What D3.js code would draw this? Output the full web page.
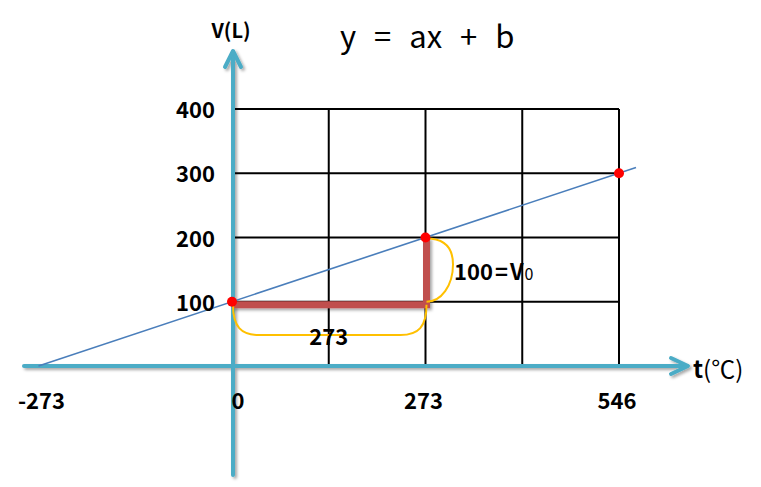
<!DOCTYPE html>
<html>
<head>
<meta charset="utf-8">
<script src="https://cdn.jsdelivr.net/npm/d3@7"></script>
<style>
  body { margin: 0; background: #fff; }
  text { font-family: "Noto Sans CJK KR", "Noto Sans", sans-serif; }
</style>
</head>
<body>
<div id="chart"></div>
<script>
// V = a t + b  (Charles' law sketch)

var width = 761,
	height = 487;

// tick values and labels
var x_ticks = [-273, 0, 273, 546];
var y_ticks = [100, 200, 300, 400];
// grid lines
var grid_x = [0, 136.5, 273, 409.5, 546];
var grid_y = [100, 200, 300, 400];
// the fitted line, from the x axis to past 546
var line_pts = [[-273, 0], [570, 309]];
// measured points
var points = [[0, 100], [273, 200], [546, 300]];
// the step showing slope (run 273, rise 100)
var step_pts = [[0, 100], [273, 100], [273, 200]];

var cyan = '#4BACC6',
	blue = '#4A7EBB',
	red_bar = '#C0504D',
	yellow = '#FFC000';

var x = d3.scaleLinear().domain([0, 546]).range([232, 619]);
var y = d3.scaleLinear().domain([0, 400]).range([366, 109]);

var svg = d3.select('#chart')
	.append('svg')
	.attr('width', width)
	.attr('height', height);

var defs = svg.append('defs');
defs.append('filter')
	.attr('id', 'shadow')
	.attr('x', '-10%').attr('y', '-10%')
	.attr('width', '130%').attr('height', '130%')
	.append('feDropShadow')
	.attr('dx', 2).attr('dy', 2)
	.attr('stdDeviation', 1.5)
	.attr('flood-color', '#000')
	.attr('flood-opacity', 0.35);

// grid
svg.append('g')
	.selectAll('line')
	.data(grid_x)
	.enter().append('line')
	.attr('x1', function(d) { return x(d); })
	.attr('x2', function(d) { return x(d); })
	.attr('y1', y(400))
	.attr('y2', y(0))
	.attr('stroke', '#000')
	.attr('stroke-width', 2);

svg.append('g')
	.selectAll('line')
	.data(grid_y)
	.enter().append('line')
	.attr('x1', x(0))
	.attr('x2', x(546))
	.attr('y1', function(d) { return y(d); })
	.attr('y2', function(d) { return y(d); })
	.attr('stroke', '#000')
	.attr('stroke-width', 2);

// axes (cyan, with arrow heads)
var axes = svg.append('g')
	.attr('filter', 'url(#shadow)')
	.attr('stroke', cyan)
	.attr('stroke-width', 4)
	.attr('fill', 'none')
	.attr('stroke-linecap', 'round')
	.attr('stroke-linejoin', 'round');

var x0 = x(0) + 1, y0 = y(0);
axes.append('line')
	.attr('x1', 24).attr('x2', 687)
	.attr('y1', y0).attr('y2', y0);
axes.append('polyline')
	.attr('points', [[671, y0 - 8], [688, y0], [671, y0 + 8]].join(' '));

axes.append('line')
	.attr('x1', x0).attr('x2', x0)
	.attr('y1', 475).attr('y2', 52);
axes.append('polyline')
	.attr('points', [[x0 - 8, 67], [x0, 51], [x0 + 8, 67]].join(' '));

// fitted line
svg.append('line')
	.attr('x1', x(line_pts[0][0]))
	.attr('y1', y(line_pts[0][1]))
	.attr('x2', x(line_pts[1][0]))
	.attr('y2', y(line_pts[1][1]))
	.attr('stroke', blue)
	.attr('stroke-width', 1.6);

// red step
svg.append('polyline')
	.attr('points', step_pts.map(function(d, i) {
		var dy = (i < 2) ? 3 : 0;
		return [x(d[0]) + (i > 0 ? 1 : 0), y(d[1]) + dy];
	}).join(' '))
	.attr('fill', 'none')
	.attr('stroke', red_bar)
	.attr('stroke-width', 7)
	.attr('filter', 'url(#shadow)');

// yellow brackets
var bx0 = x(0) + 1, bx1 = x(273) + 1, by = y(100) + 3, yb = 335;
var p1 = d3.path();
p1.moveTo(bx0, by);
p1.bezierCurveTo(bx0, by + 22, bx0 + 8, yb, bx0 + 26, yb);
p1.lineTo(bx1 - 26, yb);
p1.bezierCurveTo(bx1 - 8, yb, bx1, by + 22, bx1, by);
svg.append('path')
	.attr('d', p1.toString())
	.attr('fill', 'none')
	.attr('stroke', yellow)
	.attr('stroke-width', 2);

var ry0 = y(200) + 1, ry1 = y(100), rx = 453;
var p2 = d3.path();
p2.moveTo(bx1, ry0);
p2.bezierCurveTo(rx - 8, ry0, rx, ry0 + 10, rx, ry0 + 26);
p2.bezierCurveTo(rx, ry1 - 16, rx - 12, ry1, bx1, ry1);
svg.append('path')
	.attr('d', p2.toString())
	.attr('fill', 'none')
	.attr('stroke', yellow)
	.attr('stroke-width', 2);

// points
svg.append('g')
	.selectAll('circle')
	.data(points)
	.enter().append('circle')
	.attr('cx', function(d) { return x(d[0]); })
	.attr('cy', function(d) { return y(d[1]); })
	.attr('r', 5)
	.attr('fill', '#FF0000');

// tick labels
svg.append('g')
	.selectAll('text')
	.data(y_ticks)
	.enter().append('text')
	.attr('x', 215)
	.attr('y', function(d) { return y(d) + 9; })
	.attr('text-anchor', 'end')
	.attr('font-size', 22)
	.attr('font-weight', 'bold')
	.text(function(d) { return d; });

svg.append('g')
	.selectAll('text')
	.data(x_ticks)
	.enter().append('text')
	.attr('x', function(d) { return d == 0 ? x(d) + 6 : x(d) + (d < 0 ? 3 : -2); })
	.attr('y', 409)
	.attr('text-anchor', 'middle')
	.attr('font-size', 22)
	.attr('font-weight', 'bold')
	.text(function(d) { return d; });

// in-plot annotations
svg.append('text')
	.attr('x', x(136.5))
	.attr('y', 345)
	.attr('text-anchor', 'middle')
	.attr('font-size', 22)
	.attr('font-weight', 'bold')
	.text('273');

var v0 = svg.append('text')
	.attr('x', 454)
	.attr('y', 280)
	.attr('font-size', 22)
	.attr('font-weight', 'bold');
v0.append('tspan').text('100');
v0.append('tspan').attr('dx', 2).text('=');
v0.append('tspan').attr('dx', 2).text('V');
v0.append('tspan').attr('dx', 1).attr('font-size', 16).attr('font-weight', 'normal').text('0');

// axis titles
svg.append('text')
	.attr('x', 231)
	.attr('y', 38)
	.attr('text-anchor', 'middle')
	.attr('font-size', 20)
	.attr('font-weight', 'bold')
	.text('V(L)');

var tl = svg.append('text')
	.attr('x', 693)
	.attr('y', 378)
	.attr('font-size', 24);
tl.append('tspan').attr('font-weight', 'bold').text('t');
tl.append('tspan').text('(℃)');

svg.append('text')
	.attr('x', 340)
	.attr('y', 48)
	.attr('font-size', 31)
	.attr('word-spacing', 11)
	.text('y = ax + b');
</script>
</body>
</html>
